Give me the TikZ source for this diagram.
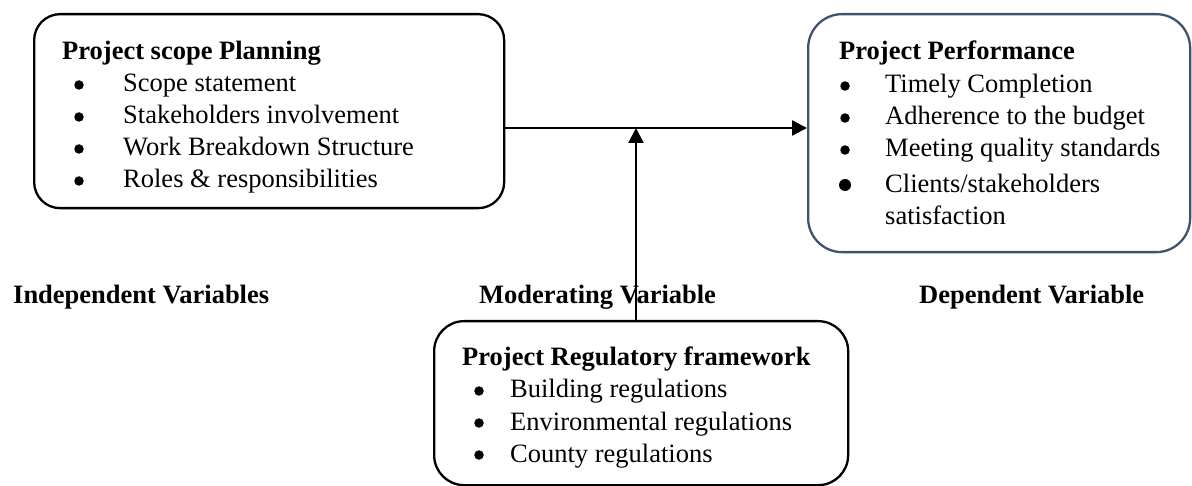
\documentclass[tikz,border=0pt]{standalone}
\usepackage{fontspec}
\setmainfont{Liberation Serif}
\usetikzlibrary{arrows.meta}
\definecolor{slate}{RGB}{64,83,110}
\begin{document}
\begin{tikzpicture}[x=1pt,y=-1pt,
  box/.style={draw=black,line width=2.3pt,rounded corners=26pt,anchor=north west,inner sep=0pt},
  txt/.style={anchor=base west,inner sep=0pt,font=\fontsize{26.5}{32}\selectfont},
  hd/.style={txt,font=\fontsize{26.5}{32}\selectfont\bfseries},
  lbl/.style={hd},
  dot/.style={circle,fill=black,inner sep=0pt,minimum size=9.5pt},
  conn/.style={line width=2.3pt,-{Triangle[length=15pt,width=15pt]}}]
\useasboundingbox (0,0) rectangle (1192,486);
% boxes
\node[box,minimum width=470pt,minimum height=194pt] (ind) at (33,13) {};
\node[box,draw=slate,rounded corners=34pt,minimum width=382pt,minimum height=238pt] (dep) at (807,13) {};
\node[box,rounded corners=30pt,minimum width=414pt,minimum height=164pt] (reg) at (433,320) {};
% left box text
\node[hd] (ih) at (62,60) {Project scope Planning};
\foreach \t [count=\i] in {Scope statement,Stakeholders involvement,Work Breakdown Structure,Roles \& responsibilities}{
  \node[dot] (ib\i) at (79,{53+32*\i}) {};
  \node[txt] (it\i) at (123,{60+32*\i}) {\t};
}
% right box text
\node[hd] (dh) at (839,60) {Project Performance};
\foreach \t [count=\i] in {Timely Completion,Adherence to the budget,Meeting quality standards}{
  \node[dot] (db\i) at (845,{54+32*\i}) {};
  \node[txt] (dt\i) at (885,{61+32*\i}) {\t};
}
\node[dot,minimum size=12pt] (db4) at (845,185) {};
\node[txt] (dt4) at (885,193) {Clients/stakeholders};
\node[txt] (dt5) at (885,225) {satisfaction};
% bottom box text
\node[hd] (rh) at (462,366) {Project Regulatory framework};
\foreach \t [count=\i] in {Building regulations,Environmental regulations,County regulations}{
  \node[dot] (rb\i) at (479,{359+32*\i}) {};
  \node[txt] (rt\i) at (510,{366+32*\i}) {\t};
}
% labels
\node[lbl] (li) at (13,304) {Independent Variables};
\node[lbl] (lm) at (479,304) {Moderating Variable};
\node[lbl] (ld) at (919,304) {Dependent Variable};
% connectors
\coordinate (mid) at (636,128);
\draw[conn] (ind.east |- mid) -- (dep.west |- mid);
\draw[conn] (mid |- reg.north) -- (mid);
\end{tikzpicture}
\end{document}
